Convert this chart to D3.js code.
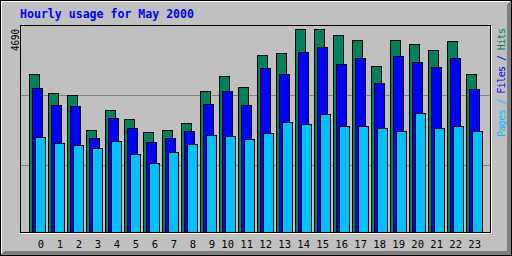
<!DOCTYPE html>
<html>
<head>
<meta charset="utf-8">
<script src="https://cdnjs.cloudflare.com/ajax/libs/d3/7.8.5/d3.min.js"></script>
<style>
  body { margin: 0; background: #fff; }
  svg { display: block; }
  text { font-family: "DejaVu Sans Mono", "Liberation Mono", monospace; }
</style>
</head>
<body>
<svg width="512" height="256"></svg>
<script>
'use strict';

const hours = d3.range(24)
const hits  = [3650, 3211, 3165, 2357, 2819, 2611, 2310, 2357, 2518, 3258, 3604, 3350,
               4089, 4136, 4690, 4682, 4551, 4436, 3835, 4436, 4343, 4205, 4413, 3650]
const files = [3327, 2934, 2911, 2172, 2634, 2403, 2079, 2172, 2333, 2957, 3258, 2934,
               3789, 3650, 4159, 4274, 3881, 4020, 3442, 4066, 3928, 3812, 4020, 3304]
const pages = [2195, 2056, 2010, 1941, 2102, 1802, 1594, 1848, 2033, 2241, 2218, 2149,
               2287, 2541, 2495, 2726, 2449, 2449, 2403, 2333, 2749, 2403, 2449, 2333]
const maxLabel = '4690'
const title = 'Hourly usage for May 2000'

const W = 512, H = 256
const svg = d3.select('svg')

// background + bevel
svg.append('rect').attr('width', W).attr('height', H).attr('fill', '#c0c0c0')
svg.append('rect').attr('x', 0.5).attr('y', 0.5).attr('width', W - 1).attr('height', H - 1)
  .attr('fill', 'none').attr('stroke', '#000')
const line = (x1, y1, x2, y2, c) => svg.append('line')
  .attr('x1', x1).attr('y1', y1).attr('x2', x2).attr('y2', y2)
  .attr('stroke', c).attr('stroke-width', 1)
line(1, 1.5, W - 2, 1.5, '#fff')
line(1.5, 1, 1.5, H - 2, '#fff')
for (let i = 1; i < 5; i++) {
  line(i, H - i - 0.5, W - 1, H - i - 0.5, '#808080')
  line(W - i - 0.5, i, W - i - 0.5, H - 1, '#808080')
}

// plot frame
const fx0 = 20, fy0 = 25, fx1 = 490, fy1 = 232
svg.append('rect').attr('x', fx0 + 0.5).attr('y', fy0 + 0.5)
  .attr('width', fx1 - fx0).attr('height', fy1 - fy0)
  .attr('fill', '#c0c0c0').attr('stroke', '#000')
line(fx0 + 1, fy1 + 1.5, fx1 + 2, fy1 + 1.5, '#fff')
line(fx1 + 1.5, fy0 + 1, fx1 + 1.5, fy1 + 2, '#fff')

// grid
const gridY = d3.scaleLinear().domain([0, 3]).range([234, 26])
svg.append('g').selectAll('line').data([1, 2]).enter().append('line')
  .attr('x1', fx0 + 1).attr('x2', fx1)
  .attr('y1', (d) => Math.round(gridY(d)) + 0.5)
  .attr('y2', (d) => Math.round(gridY(d)) + 0.5)
  .attr('stroke', '#808080')

const x = d3.scaleBand().domain(hours).range([29, 29 + 24 * 19])
const y = d3.scaleLinear().domain([0, 4690]).range([232, 29])

const series = [
  { values: hits,  color: '#00805c', off: 0 },
  { values: files, color: '#0000ff', off: 3 },
  { values: pages, color: '#00c0ff', off: 6 }
]

series.forEach((s) => {
  svg.append('g').selectAll('rect').data(s.values).enter().append('rect')
    .attr('x', (d, i) => x(i) + s.off + 0.5)
    .attr('y', (d) => Math.round(y(d)) + 0.5)
    .attr('width', 10)
    .attr('height', (d) => 232 - Math.round(y(d)))
    .attr('fill', s.color)
    .attr('stroke', '#000')
})

// hour labels
svg.append('g').selectAll('text').data(hours).enter().append('text')
  .attr('x', (d) => x(d) + 15)
  .attr('y', 248)
  .attr('text-anchor', 'end')
  .attr('font-size', 10.5)
  .attr('fill', '#000')
  .text((d) => d)

// title
svg.append('text').attr('x', 20).attr('y', 18)
  .attr('font-size', 12).attr('font-weight', 'bold').attr('fill', '#0000ff')
  .attr('textLength', 174).attr('lengthAdjust', 'spacingAndGlyphs')
  .text(title)

// max label
svg.append('text').attr('transform', 'translate(19,51) rotate(-90)')
  .attr('font-size', 10).attr('fill', '#000')
  .attr('textLength', 22).attr('lengthAdjust', 'spacingAndGlyphs')
  .text(maxLabel)

// legend
const legend = svg.append('text').attr('transform', 'translate(505,137) rotate(-90)')
  .attr('font-size', 10).attr('letter-spacing', -0.6).style('white-space', 'pre')
const parts = [['Pages /', '#00c0ff'], [' Files /', '#0000ff'], [' Hits', '#00805c']]
parts.forEach(([t, c]) => legend.append('tspan').attr('fill', c).text(t))
</script>
</body>
</html>
